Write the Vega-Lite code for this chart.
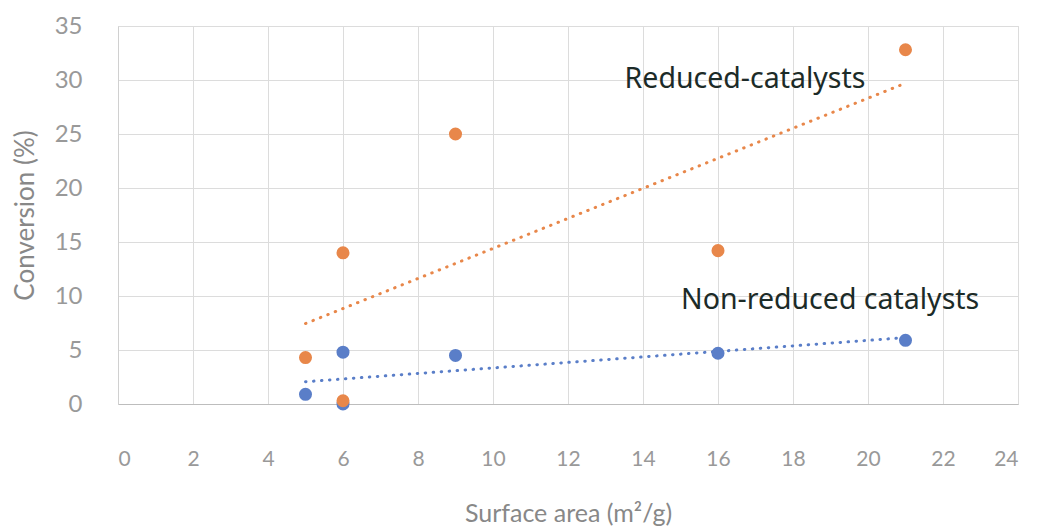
{
  "$schema": "https://vega.github.io/schema/vega-lite/v6.json",
  "width": 900,
  "height": 378,
  "autosize": "none",
  "padding": {"left": 118, "top": 26, "right": 19, "bottom": 123},
  "background": "white",
  "config": {
    "view": {"stroke": "#d4d4d4", "strokeWidth": 1},
    "font": "Lato"
  },
  "datasets": {
    "points": [
      {"area": 5, "conversion": 0.9, "series": "Non-reduced catalysts"},
      {"area": 6, "conversion": 4.8, "series": "Non-reduced catalysts"},
      {"area": 6, "conversion": 0.0, "series": "Non-reduced catalysts"},
      {"area": 9, "conversion": 4.5, "series": "Non-reduced catalysts"},
      {"area": 16, "conversion": 4.7, "series": "Non-reduced catalysts"},
      {"area": 21, "conversion": 5.9, "series": "Non-reduced catalysts"},
      {"area": 5, "conversion": 4.3, "series": "Reduced-catalysts"},
      {"area": 6, "conversion": 14.0, "series": "Reduced-catalysts"},
      {"area": 6, "conversion": 0.3, "series": "Reduced-catalysts"},
      {"area": 9, "conversion": 25.0, "series": "Reduced-catalysts"},
      {"area": 16, "conversion": 14.2, "series": "Reduced-catalysts"},
      {"area": 21, "conversion": 32.8, "series": "Reduced-catalysts"}
    ],
    "labels": [
      {"area": 16.72, "conversion": 30.1, "label": "Reduced-catalysts"},
      {"area": 18.99, "conversion": 9.6, "label": "Non-reduced catalysts"}
    ]
  },
  "encoding": {
    "x": {
      "field": "area", "type": "quantitative",
      "scale": {"domain": [0, 24], "nice": false},
      "axis": {
        "values": [0, 2, 4, 6, 8, 10, 12, 14, 16, 18, 20, 22, 24],
        "title": "Surface area (m²/g)",
        "grid": true, "gridColor": "#dcdcdc", "gridWidth": 1,
        "domainColor": "#bdbdbd", "domainWidth": 1.2,
        "ticks": false,
        "labelPadding": 44,
        "labelFontSize": 21, "labelColor": "#999999", "labelFont": "Lato",
        "titleFontSize": 25, "titleColor": "#888888", "titleFontWeight": "normal", "titleFont": "Lato",
        "titleY": 109, "titleBaseline": "middle"
      }
    },
    "y": {
      "field": "conversion", "type": "quantitative",
      "scale": {"domain": [0, 35], "nice": false},
      "axis": {
        "values": [0, 5, 10, 15, 20, 25, 30, 35],
        "title": "Conversion (%)",
        "grid": true, "gridColor": "#dcdcdc", "gridWidth": 1,
        "domainColor": "#d0d0d0",
        "ticks": false,
        "labelPadding": 36,
        "labelFontSize": 24, "labelColor": "#999999", "labelFont": "Lato",
        "titleFontSize": 26, "titleColor": "#888888", "titleFontWeight": "normal", "titleFont": "Lato",
        "titleX": -93, "titleY": 189, "titleBaseline": "middle", "titleAngle": -90
      }
    }
  },
  "layer": [
    {
      "data": {"name": "points"},
      "transform": [
        {"regression": "conversion", "on": "area", "groupby": ["series"], "extent": [5, 21]}
      ],
      "mark": {"type": "line", "strokeWidth": 3, "strokeCap": "round", "strokeDash": [0.5, 7.5]},
      "encoding": {
        "color": {
          "field": "series", "type": "nominal", "legend": null,
          "scale": {"domain": ["Reduced-catalysts", "Non-reduced catalysts"], "range": ["#E8874A", "#5A7EC8"]}
        }
      }
    },
    {
      "data": {"name": "points"},
      "mark": {"type": "circle", "size": 170, "opacity": 1},
      "encoding": {
        "color": {
          "field": "series", "type": "nominal", "legend": null,
          "scale": {"domain": ["Reduced-catalysts", "Non-reduced catalysts"], "range": ["#E8874A", "#5A7EC8"]}
        }
      }
    },
    {
      "data": {"name": "labels"},
      "mark": {"type": "text", "fontSize": 28.5, "color": "#1c2b28", "font": "Noto Sans", "align": "center", "baseline": "middle"},
      "encoding": {"text": {"field": "label"}}
    }
  ]
}
